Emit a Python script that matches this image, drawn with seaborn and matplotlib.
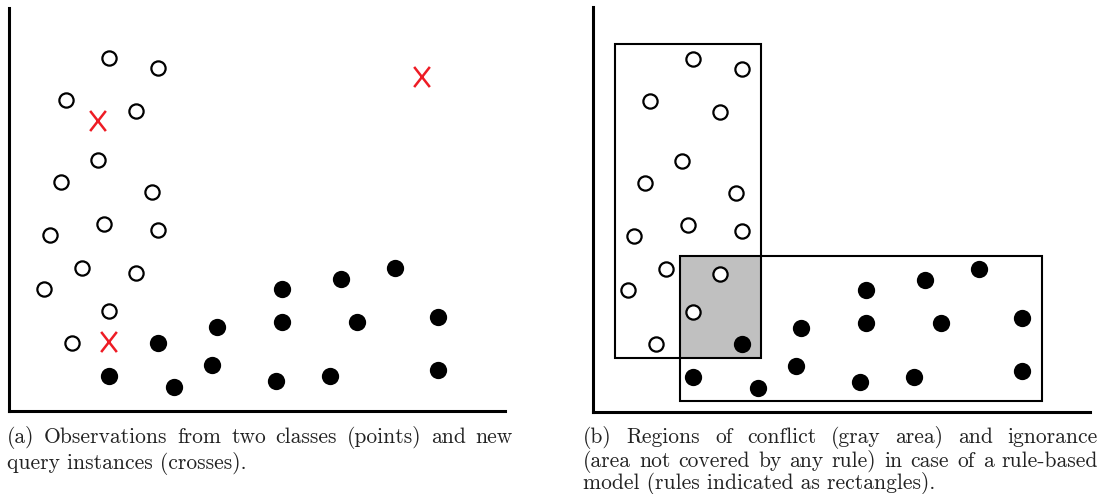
import matplotlib
matplotlib.use("Agg")
import matplotlib.pyplot as plt
import seaborn as sns
import pandas as pd
from matplotlib.path import Path
from matplotlib.patches import Rectangle

# observations (x right, y up, axis origin at 0,0)
open_x = [100, 149, 57, 127, 89, 52, 143, 95, 41, 149, 73, 127, 35, 100, 63]
open_y = [353, 343, 311, 300, 251, 229, 219, 187, 176, 181, 143, 138, 122, 100, 68]
filled_x = [149, 208, 273, 332, 386, 273, 348, 429, 100, 165, 203, 267, 321, 429]
filled_y = [68, 84, 122, 132, 143, 89, 89, 94, 35, 24, 46, 30, 35, 41]
query_x = [413, 89, 100]
query_y = [334, 290, 69]

# rules of the rule-based model: (x0, y0, x1, y1)
rule_open = (22, 54, 168, 368)
rule_filled = (87, 11, 449, 156)

caption_a = ["(a) Observations from two classes (points) and new",
             "query instances (crosses)."]
caption_b = ["(b) Regions of conflict (gray area) and ignorance",
             "(area not covered by any rule) in case of a rule-based",
             "model (rules indicated as rectangles)."]

W, H = 1101, 494
RED = "#ee1c25"
cross = Path([(-0.78, -1), (0.78, 1), (-0.78, 1), (0.78, -1)],
             [Path.MOVETO, Path.LINETO, Path.MOVETO, Path.LINETO])

df_open = pd.DataFrame({"x": open_x, "y": open_y})
df_filled = pd.DataFrame({"x": filled_x, "y": filled_y})
df_query = pd.DataFrame({"x": query_x, "y": query_y})

sns.set_style("white")
plt.rcParams["font.family"] = ["cmr10", "DejaVu Serif"]
fig = plt.figure(figsize=(W / 100, H / 100), dpi=100)
ax1 = fig.add_axes([9 / W, (H - 411) / H, 496 / W, 403 / H])
ax2 = fig.add_axes([593 / W, (H - 412) / H, 497 / W, 405 / H])


def draw_points(ax):
    sns.scatterplot(ax=ax, x="x", y="y", data=df_open, s=105, color="black",
                    facecolor="white", edgecolor="black", linewidth=1.6, zorder=4)
    sns.scatterplot(ax=ax, x="x", y="y", data=df_filled, s=155, color="black",
                    facecolor="black", edgecolor="black", linewidth=0, zorder=4)


def style_axes(ax, xmax, ymax):
    ax.set_xlim(0, xmax)
    ax.set_ylim(0, ymax)
    ax.set_xticks([])
    ax.set_yticks([])
    ax.set_xlabel("")
    ax.set_ylabel("")
    for side in ["top", "right"]:
        ax.spines[side].set_visible(False)
    for side in ["left", "bottom"]:
        ax.spines[side].set_linewidth(2.2)
        ax.spines[side].set_color("black")


draw_points(ax1)
sns.scatterplot(ax=ax1, x="x", y="y", data=df_query, s=210, marker=cross,
                color=RED, facecolor="none", edgecolor=RED, linewidth=1.8, zorder=5)
style_axes(ax1, 496, 403)

# conflict region = overlap of the two rules
ox0, oy0 = max(rule_open[0], rule_filled[0]), max(rule_open[1], rule_filled[1])
ox1, oy1 = min(rule_open[2], rule_filled[2]), min(rule_open[3], rule_filled[3])
ax2.add_patch(Rectangle((ox0, oy0), ox1 - ox0, oy1 - oy0, facecolor="#c0c0c0",
                        edgecolor="none", zorder=1))
for r in [rule_open, rule_filled]:
    ax2.add_patch(Rectangle((r[0], r[1]), r[2] - r[0], r[3] - r[1], facecolor="none",
                            edgecolor="black", linewidth=1.5, zorder=2))
draw_points(ax2)
style_axes(ax2, 497, 405)

# justified captions, as in the source document
renderer = fig.canvas.get_renderer()
FS = 15.5


def caption(lines, x0, width, baselines):
    for line, yb in zip(lines, baselines):
        y = (H - yb) / H
        if line is lines[-1]:
            fig.text(x0 / W, y, line, fontsize=FS, va="baseline", color="#222222")
            continue
        words = line.split(" ")
        texts = [fig.text(0, y, w, fontsize=FS, va="baseline", color="#222222") for w in words]
        widths = [t.get_window_extent(renderer).width for t in texts]
        gap = (width - sum(widths)) / (len(words) - 1)
        xpos = x0
        for t, w in zip(texts, widths):
            t.set_x(xpos / W)
            xpos += w + gap


caption(caption_a, 7, 506, [443, 469])
caption(caption_b, 583, 515, [443, 467, 489])

fig.savefig("out.png", dpi=100)
